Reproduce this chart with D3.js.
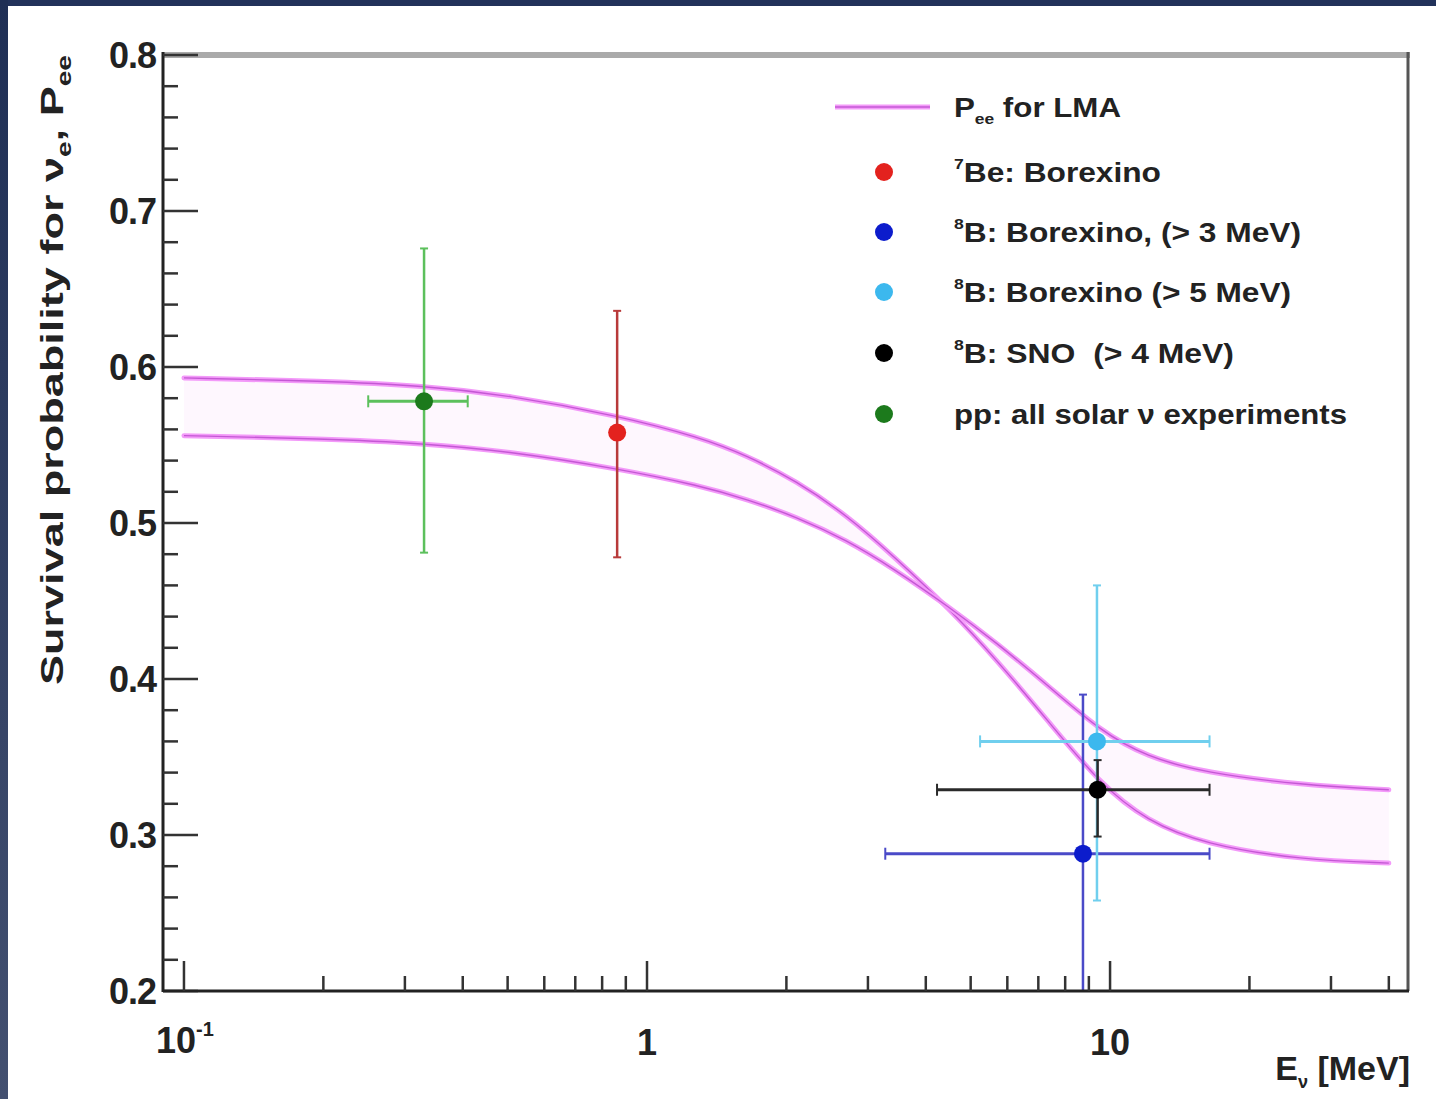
<!DOCTYPE html>
<html><head><meta charset="utf-8">
<script src="https://cdn.jsdelivr.net/npm/d3@7"></script>
<style>
html,body{margin:0;padding:0;background:#fff;}
svg{display:block;font-family:"Liberation Sans",Arial,Helvetica,sans-serif;}
svg text{white-space:pre;}
</style></head>
<body>
<svg id="chart" width="1436" height="1099"></svg>
<script>
// ---------------- data ----------------
const curveEnergy = [0.1, 0.2, 0.33, 0.5, 0.86, 1.3, 1.65, 2.1, 2.7, 3.4, 4.5, 5.7, 7.4, 9.5, 12, 16, 26, 40];
const curveUpper  = [0.593, 0.591, 0.588, 0.582, 0.569, 0.555, 0.543, 0.527, 0.505, 0.479, 0.445, 0.412, 0.372, 0.333, 0.309, 0.294, 0.284, 0.282];
const curveLower  = [0.556, 0.554, 0.551, 0.546, 0.535, 0.524, 0.515, 0.504, 0.489, 0.471, 0.446, 0.423, 0.395, 0.367, 0.350, 0.340, 0.332, 0.329];

const pointNames  = ["pp", "Be7", "B8_3", "B8_5", "SNO"];
const pointE      = [0.33, 0.862, 8.74, 9.37, 9.4];
const pointP      = [0.578, 0.558, 0.288, 0.360, 0.329];
const pointPLo    = [0.481, 0.478, 0.170, 0.258, 0.299];
const pointPHi    = [0.676, 0.636, 0.390, 0.460, 0.348];
const pointELo    = [0.25, null, 3.27, 5.24, 4.23];
const pointEHi    = [0.41, null, 16.4, 16.4, 16.4];
const pointColor  = ["#1c7a1c", "#e3221e", "#0c1ccc", "#3cb8ee", "#000000"];
const barColor    = ["#5cc05c", "#b83a3a", "#4a4ac8", "#70cfee", "#2a2a2a"];

const legendLabels = ["LMA", "Be7", "B8_3", "B8_5", "SNO", "pp"];
const legendColors = ["#e06ef0", "#e3221e", "#0c1ccc", "#3cb8ee", "#000000", "#1c7a1c"];

const yTicksMajor = [0.2, 0.3, 0.4, 0.5, 0.6, 0.7, 0.8];
const yTickLabels = ["0.2", "0.3", "0.4", "0.5", "0.6", "0.7", "0.8"];
const xTicksMajor = [0.1, 1, 10];
const xTicksMinor = [0.2,0.3,0.4,0.5,0.6,0.7,0.8,0.9,2,3,4,5,6,7,8,9,20,30,40];

// ---------------- layout ----------------
const svg = d3.select("#chart");
const L = 163, R = 1408, T = 55, B = 991;
const x = d3.scaleLog().domain([0.0901, 44.0]).range([L, R]);
const y = d3.scaleLinear().domain([0.2, 0.8]).range([B, T]);

const defs = svg.append("defs");
const grad = defs.append("linearGradient").attr("id","navy").attr("x1",0).attr("y1",0).attr("x2",0).attr("y2",1);
grad.append("stop").attr("offset","0%").attr("stop-color","#1f2f55");
grad.append("stop").attr("offset","100%").attr("stop-color","#435070");
svg.append("rect").attr("x",0).attr("y",0).attr("width",1436).attr("height",1099).attr("fill","#fff");
svg.append("rect").attr("x",0).attr("y",0).attr("width",1436).attr("height",6).attr("fill","#22325a");
svg.append("rect").attr("x",0).attr("y",0).attr("width",8).attr("height",1099).attr("fill","url(#navy)");

defs.append("clipPath").attr("id","plotclip").append("rect")
  .attr("x",L).attr("y",T).attr("width",R-L).attr("height",B-T);

const plot = svg.append("g").attr("clip-path","url(#plotclip)");

// LMA band
const band = curveEnergy.map((e,i)=>({e, u:curveUpper[i], l:curveLower[i]}));
plot.append("path").datum(band)
  .attr("d", d3.area().x(d=>x(d.e)).y0(d=>y(d.l)).y1(d=>y(d.u)).curve(d3.curveBasis))
  .attr("fill","#fef7fe");
[curveUpper, curveLower].forEach(arr=>{
  const data = curveEnergy.map((e,i)=>({e, p:arr[i]}));
  const line = d3.line().x(d=>x(d.e)).y(d=>y(d.p)).curve(d3.curveBasis);
  plot.append("path").datum(data).attr("d",line).attr("fill","none")
    .attr("stroke","#f39af9").attr("stroke-width",5).attr("stroke-linecap","round");
  plot.append("path").datum(data).attr("d",line).attr("fill","none")
    .attr("stroke","#c458d4").attr("stroke-width",1.4);
});

// data points with error bars
pointNames.forEach((n,i)=>{
  const g = plot.append("g");
  const cx = x(pointE[i]), cy = y(pointP[i]);
  g.append("line").attr("x1",cx).attr("x2",cx).attr("y1",y(pointPLo[i])).attr("y2",y(pointPHi[i]))
    .attr("stroke",barColor[i]).attr("stroke-width",2.5);
  [pointPLo[i], pointPHi[i]].forEach(v=>{
    g.append("line").attr("x1",cx-4).attr("x2",cx+4).attr("y1",y(v)).attr("y2",y(v))
      .attr("stroke",barColor[i]).attr("stroke-width",2);
  });
  if (pointELo[i] !== null) {
    g.append("line").attr("x1",x(pointELo[i])).attr("x2",x(pointEHi[i])).attr("y1",cy).attr("y2",cy)
      .attr("stroke",barColor[i]).attr("stroke-width",3);
    [pointELo[i], pointEHi[i]].forEach(v=>{
      g.append("line").attr("x1",x(v)).attr("x2",x(v)).attr("y1",cy-6).attr("y2",cy+6)
        .attr("stroke",barColor[i]).attr("stroke-width",2);
    });
  }
  g.append("circle").attr("cx",cx).attr("cy",cy).attr("r",9).attr("fill",pointColor[i]);
});

// frame
svg.append("line").attr("x1",L).attr("x2",R+2).attr("y1",T).attr("y2",T).attr("stroke","#aaaaaa").attr("stroke-width",6);
svg.append("line").attr("x1",R).attr("x2",R).attr("y1",T-3).attr("y2",B).attr("stroke","#555").attr("stroke-width",3);

// y axis
const yMinor = d3.range(0.2, 0.8001, 0.02);
const yAxis = svg.append("g");
yAxis.append("line").attr("x1",L).attr("x2",L).attr("y1",T-3).attr("y2",B+1).attr("stroke","#222").attr("stroke-width",3);
yMinor.forEach(v=>{
  const major = yTicksMajor.some(m=>Math.abs(m-v)<1e-6);
  yAxis.append("line").attr("x1",L).attr("x2",L+(major?35:15)).attr("y1",y(v)).attr("y2",y(v))
    .attr("stroke","#333").attr("stroke-width",2.5);
});
yTicksMajor.forEach((v,i)=>{
  yAxis.append("text").attr("x",156).attr("y",y(v)+13).attr("text-anchor","end")
    .attr("font-size",36).attr("font-weight","bold").attr("fill","#222")
    .attr("letter-spacing",-1).text(yTickLabels[i]);
});

// x axis
const xAxis = svg.append("g");
xAxis.append("line").attr("x1",L).attr("x2",R+1).attr("y1",B).attr("y2",B).attr("stroke","#222").attr("stroke-width",3);
xTicksMajor.forEach(v=>{
  xAxis.append("line").attr("x1",x(v)).attr("x2",x(v)).attr("y1",B).attr("y2",B-30).attr("stroke","#333").attr("stroke-width",2.5);
});
xTicksMinor.forEach(v=>{
  xAxis.append("line").attr("x1",x(v)).attr("x2",x(v)).attr("y1",B).attr("y2",B-15).attr("stroke","#333").attr("stroke-width",2.5);
});
const t01 = xAxis.append("text").attr("x",x(0.1)-28).attr("y",1053).attr("font-size",36).attr("font-weight","bold").attr("fill","#222");
t01.append("tspan").text("10");
t01.append("tspan").attr("font-size",20).attr("dy",-17).text("-1");
xAxis.append("text").attr("x",x(1)).attr("y",1055).attr("text-anchor","middle").attr("font-size",36).attr("font-weight","bold").attr("fill","#222").text("1");
xAxis.append("text").attr("x",x(10)).attr("y",1055).attr("text-anchor","middle").attr("font-size",36).attr("font-weight","bold").attr("fill","#222").text("10");

// x title
const xt = svg.append("text").attr("x",1410).attr("y",1080).attr("text-anchor","end")
  .attr("font-size",34).attr("font-weight","bold").attr("fill","#222");
xt.append("tspan").text("E");
xt.append("tspan").attr("font-size",18).attr("dy",8).text("ν");
xt.append("tspan").attr("dy",-8).text(" [MeV]");

// y title
const yt = svg.append("text").attr("transform","translate(63,685) rotate(-90)")
  .attr("font-size",32).attr("font-weight","bold").attr("fill","#222")
  .attr("textLength",630).attr("lengthAdjust","spacingAndGlyphs");
yt.append("tspan").text("Survival probability for ν");
yt.append("tspan").attr("font-size",20).attr("dy",8).text("e");
yt.append("tspan").attr("dy",-8).text(", P");
yt.append("tspan").attr("font-size",20).attr("dy",8).text("ee");

// legend
const legRowY = [107, 172, 232, 292, 353, 414];
const legWidths = [167, 207, 347, 337, 280, 393];
const leg = svg.append("g");
legendLabels.forEach((k,i)=>{
  const cy = legRowY[i];
  if (i === 0) {
    leg.append("line").attr("x1",835).attr("x2",930).attr("y1",cy).attr("y2",cy)
      .attr("stroke","#f39af9").attr("stroke-width",5);
    leg.append("line").attr("x1",835).attr("x2",930).attr("y1",cy).attr("y2",cy)
      .attr("stroke","#c458d4").attr("stroke-width",1.4);
  } else {
    leg.append("circle").attr("cx",884).attr("cy",cy).attr("r",9).attr("fill",legendColors[i]);
  }
  const t = leg.append("text").attr("x",954).attr("y",cy+10).attr("font-size",27).attr("font-weight","bold")
    .attr("fill","#222").attr("textLength",legWidths[i]).attr("lengthAdjust","spacingAndGlyphs");
  const sup = (s)=>{ t.append("tspan").attr("font-size",15).attr("dy",-13).text(s); };
  const norm = (s, dy)=>{ t.append("tspan").attr("dy",dy||0).text(s); };
  if (k === "LMA") {
    norm("P"); t.append("tspan").attr("font-size",15).attr("dy",7).text("ee"); norm(" for LMA", -7);
  } else if (k === "Be7") {
    sup("7"); norm("Be: Borexino", 13);
  } else if (k === "B8_3") {
    sup("8"); norm("B: Borexino, (> 3 MeV)", 13);
  } else if (k === "B8_5") {
    sup("8"); norm("B: Borexino (> 5 MeV)", 13);
  } else if (k === "SNO") {
    sup("8"); norm("B: SNO  (> 4 MeV)", 13);
  } else {
    norm("pp: all solar ν experiments");
  }
});
</script>
</body></html>
